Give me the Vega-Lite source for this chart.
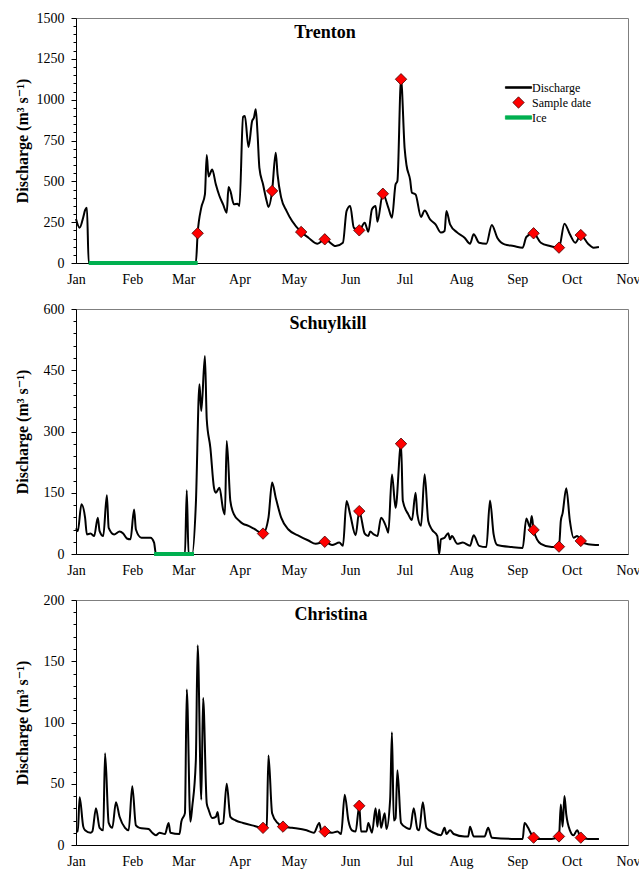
{
  "$schema": "https://vega.github.io/schema/vega-lite/v6.json",
  "background": "white",
  "padding": {"left": 13, "top": 10, "right": 0, "bottom": 0},
  "spacing": 46,
  "bounds": "flush",
  "config": {
    "font": "Times New Roman, Liberation Serif, DejaVu Serif, serif",
    "view": {"stroke": "#7f7f7f", "strokeWidth": 1},
    "axis": {"labelFont": "Times New Roman, Liberation Serif, DejaVu Serif, serif", "labelFontSize": 14, "labelColor": "black", "titleFont": "Times New Roman, Liberation Serif, DejaVu Serif, serif", "titleColor": "black", "domainColor": "black", "tickColor": "black", "grid": false},
    "legend": {"labelFont": "Times New Roman, Liberation Serif, DejaVu Serif, serif"},
    "title": {"font": "Times New Roman, Liberation Serif, DejaVu Serif, serif", "fontSize": 18, "fontWeight": "bold", "color": "black", "anchor": "middle", "frame": "group", "baseline": "alphabetic"}
  },
  "datasets": {
    "trenton": [
      {"date": "2010/01/01", "q": 270}, {"date": "2010/01/03", "q": 216}, {"date": "2010/01/05", "q": 280}, {"date": "2010/01/06", "q": 324}, {"date": "2010/01/07", "q": 339}, {"date": "2010/01/08", "q": 0},
      {"date": "2010/03/08", "q": 0}, {"date": "2010/03/09", "q": 182}, {"date": "2010/03/11", "q": 339}, {"date": "2010/03/13", "q": 420}, {"date": "2010/03/14", "q": 661}, {"date": "2010/03/15", "q": 530},
      {"date": "2010/03/17", "q": 573}, {"date": "2010/03/19", "q": 482}, {"date": "2010/03/21", "q": 410}, {"date": "2010/03/23", "q": 359}, {"date": "2010/03/25", "q": 308}, {"date": "2010/03/26", "q": 465},
      {"date": "2010/03/27", "q": 441}, {"date": "2010/03/29", "q": 359}, {"date": "2010/03/31", "q": 363}, {"date": "2010/04/01", "q": 349}, {"date": "2010/04/03", "q": 894}, {"date": "2010/04/04", "q": 900},
      {"date": "2010/04/06", "q": 710}, {"date": "2010/04/08", "q": 869}, {"date": "2010/04/09", "q": 890}, {"date": "2010/04/10", "q": 941}, {"date": "2010/04/11", "q": 788}, {"date": "2010/04/12", "q": 583},
      {"date": "2010/04/14", "q": 482}, {"date": "2010/04/16", "q": 380}, {"date": "2010/04/17", "q": 343}, {"date": "2010/04/19", "q": 441}, {"date": "2010/04/21", "q": 675}, {"date": "2010/04/22", "q": 543},
      {"date": "2010/04/24", "q": 400}, {"date": "2010/04/27", "q": 318}, {"date": "2010/04/30", "q": 257}, {"date": "2010/05/05", "q": 190}, {"date": "2010/05/09", "q": 155}, {"date": "2010/05/14", "q": 118},
      {"date": "2010/05/18", "q": 145}, {"date": "2010/05/24", "q": 104}, {"date": "2010/05/28", "q": 124}, {"date": "2010/05/30", "q": 318}, {"date": "2010/06/01", "q": 349}, {"date": "2010/06/03", "q": 216},
      {"date": "2010/06/06", "q": 200}, {"date": "2010/06/09", "q": 247}, {"date": "2010/06/11", "q": 192}, {"date": "2010/06/13", "q": 329}, {"date": "2010/06/15", "q": 349}, {"date": "2010/06/16", "q": 253},
      {"date": "2010/06/19", "q": 424}, {"date": "2010/06/22", "q": 339}, {"date": "2010/06/24", "q": 277}, {"date": "2010/06/26", "q": 482}, {"date": "2010/06/27", "q": 502}, {"date": "2010/06/29", "q": 1125},
      {"date": "2010/07/01", "q": 700}, {"date": "2010/07/02", "q": 600}, {"date": "2010/07/04", "q": 510}, {"date": "2010/07/05", "q": 430}, {"date": "2010/07/07", "q": 420}, {"date": "2010/07/10", "q": 282},
      {"date": "2010/07/12", "q": 322}, {"date": "2010/07/15", "q": 267}, {"date": "2010/07/18", "q": 237}, {"date": "2010/07/21", "q": 186}, {"date": "2010/07/23", "q": 196}, {"date": "2010/07/24", "q": 318},
      {"date": "2010/07/26", "q": 237}, {"date": "2010/07/30", "q": 186}, {"date": "2010/08/03", "q": 155}, {"date": "2010/08/06", "q": 118}, {"date": "2010/08/08", "q": 176}, {"date": "2010/08/11", "q": 124},
      {"date": "2010/08/15", "q": 118}, {"date": "2010/08/18", "q": 233}, {"date": "2010/08/21", "q": 155}, {"date": "2010/08/25", "q": 114}, {"date": "2010/08/30", "q": 104}, {"date": "2010/09/04", "q": 94},
      {"date": "2010/09/06", "q": 159}, {"date": "2010/09/10", "q": 182}, {"date": "2010/09/14", "q": 124}, {"date": "2010/09/19", "q": 104}, {"date": "2010/09/24", "q": 94}, {"date": "2010/09/27", "q": 241},
      {"date": "2010/09/30", "q": 176}, {"date": "2010/10/03", "q": 124}, {"date": "2010/10/06", "q": 171}, {"date": "2010/10/10", "q": 118}, {"date": "2010/10/13", "q": 94}, {"date": "2010/10/16", "q": 98}
    ],
    "trenton_ice": [{"date": "2010/01/08", "q": 0}, {"date": "2010/03/09", "q": 0}],
    "trenton_samples": [
      {"date": "2010/03/09", "q": 182, "series": "Sample date"}, {"date": "2010/04/19", "q": 441, "series": "Sample date"}, {"date": "2010/05/05", "q": 190, "series": "Sample date"},
      {"date": "2010/05/18", "q": 145, "series": "Sample date"}, {"date": "2010/06/06", "q": 200, "series": "Sample date"}, {"date": "2010/06/19", "q": 424, "series": "Sample date"},
      {"date": "2010/06/29", "q": 1125, "series": "Sample date"}, {"date": "2010/09/10", "q": 182, "series": "Sample date"}, {"date": "2010/09/24", "q": 94, "series": "Sample date"},
      {"date": "2010/10/06", "q": 171, "series": "Sample date"}
    ],
    "schuylkill": [
      {"date": "2010/01/01", "q": 63}, {"date": "2010/01/02", "q": 56}, {"date": "2010/01/04", "q": 122}, {"date": "2010/01/06", "q": 89}, {"date": "2010/01/07", "q": 48}, {"date": "2010/01/09", "q": 50},
      {"date": "2010/01/11", "q": 44}, {"date": "2010/01/13", "q": 89}, {"date": "2010/01/14", "q": 56}, {"date": "2010/01/16", "q": 44}, {"date": "2010/01/18", "q": 144}, {"date": "2010/01/19", "q": 64},
      {"date": "2010/01/22", "q": 48}, {"date": "2010/01/25", "q": 55}, {"date": "2010/01/27", "q": 50}, {"date": "2010/01/29", "q": 38}, {"date": "2010/01/31", "q": 36}, {"date": "2010/02/02", "q": 109},
      {"date": "2010/02/03", "q": 60}, {"date": "2010/02/06", "q": 40}, {"date": "2010/02/11", "q": 40}, {"date": "2010/02/13", "q": 28}, {"date": "2010/02/14", "q": 0}, {"date": "2010/03/02", "q": 0},
      {"date": "2010/03/03", "q": 156}, {"date": "2010/03/04", "q": 0}, {"date": "2010/03/06", "q": 0}, {"date": "2010/03/08", "q": 122}, {"date": "2010/03/10", "q": 416}, {"date": "2010/03/11", "q": 350},
      {"date": "2010/03/13", "q": 485}, {"date": "2010/03/14", "q": 330}, {"date": "2010/03/16", "q": 260}, {"date": "2010/03/18", "q": 162}, {"date": "2010/03/19", "q": 150}, {"date": "2010/03/21", "q": 162},
      {"date": "2010/03/23", "q": 109}, {"date": "2010/03/24", "q": 97}, {"date": "2010/03/25", "q": 277}, {"date": "2010/03/27", "q": 130}, {"date": "2010/03/29", "q": 97}, {"date": "2010/04/01", "q": 81},
      {"date": "2010/04/03", "q": 74}, {"date": "2010/04/06", "q": 69}, {"date": "2010/04/09", "q": 62}, {"date": "2010/04/14", "q": 50}, {"date": "2010/04/17", "q": 89}, {"date": "2010/04/19", "q": 175},
      {"date": "2010/04/21", "q": 138}, {"date": "2010/04/24", "q": 89}, {"date": "2010/04/28", "q": 60}, {"date": "2010/05/04", "q": 44}, {"date": "2010/05/09", "q": 33}, {"date": "2010/05/13", "q": 25},
      {"date": "2010/05/18", "q": 30}, {"date": "2010/05/22", "q": 22}, {"date": "2010/05/26", "q": 28}, {"date": "2010/05/28", "q": 20}, {"date": "2010/05/30", "q": 130}, {"date": "2010/06/01", "q": 97},
      {"date": "2010/06/04", "q": 46}, {"date": "2010/06/06", "q": 105}, {"date": "2010/06/09", "q": 50}, {"date": "2010/06/11", "q": 44}, {"date": "2010/06/12", "q": 55}, {"date": "2010/06/14", "q": 48},
      {"date": "2010/06/16", "q": 44}, {"date": "2010/06/18", "q": 89}, {"date": "2010/06/21", "q": 64}, {"date": "2010/06/22", "q": 52}, {"date": "2010/06/24", "q": 195}, {"date": "2010/06/26", "q": 113},
      {"date": "2010/06/29", "q": 270}, {"date": "2010/06/30", "q": 130}, {"date": "2010/07/03", "q": 97}, {"date": "2010/07/05", "q": 83}, {"date": "2010/07/07", "q": 150}, {"date": "2010/07/08", "q": 97},
      {"date": "2010/07/10", "q": 69}, {"date": "2010/07/12", "q": 195}, {"date": "2010/07/14", "q": 81}, {"date": "2010/07/16", "q": 60}, {"date": "2010/07/19", "q": 44}, {"date": "2010/07/20", "q": 0},
      {"date": "2010/07/21", "q": 36}, {"date": "2010/07/23", "q": 40}, {"date": "2010/07/25", "q": 51}, {"date": "2010/07/26", "q": 36}, {"date": "2010/07/27", "q": 44}, {"date": "2010/07/30", "q": 25},
      {"date": "2010/08/02", "q": 28}, {"date": "2010/08/06", "q": 20}, {"date": "2010/08/08", "q": 46}, {"date": "2010/08/11", "q": 20}, {"date": "2010/08/15", "q": 17}, {"date": "2010/08/17", "q": 131},
      {"date": "2010/08/19", "q": 48}, {"date": "2010/08/21", "q": 22}, {"date": "2010/08/29", "q": 17}, {"date": "2010/09/04", "q": 15}, {"date": "2010/09/06", "q": 87}, {"date": "2010/09/08", "q": 66},
      {"date": "2010/09/09", "q": 93}, {"date": "2010/09/10", "q": 59}, {"date": "2010/09/14", "q": 25}, {"date": "2010/09/20", "q": 17}, {"date": "2010/09/24", "q": 18}, {"date": "2010/09/25", "q": 81},
      {"date": "2010/09/26", "q": 100}, {"date": "2010/09/28", "q": 161}, {"date": "2010/09/30", "q": 81}, {"date": "2010/10/02", "q": 40}, {"date": "2010/10/04", "q": 44}, {"date": "2010/10/06", "q": 32},
      {"date": "2010/10/10", "q": 24}, {"date": "2010/10/16", "q": 22}
    ],
    "schuylkill_ice": [{"date": "2010/02/13", "q": 0}, {"date": "2010/03/07", "q": 0}],
    "schuylkill_samples": [
      {"date": "2010/04/14", "q": 50}, {"date": "2010/05/18", "q": 30}, {"date": "2010/06/06", "q": 105}, {"date": "2010/06/29", "q": 270},
      {"date": "2010/09/10", "q": 59}, {"date": "2010/09/24", "q": 18}, {"date": "2010/10/06", "q": 32}
    ],
    "christina": [
      {"date": "2010/01/01", "q": 11}, {"date": "2010/01/02", "q": 11}, {"date": "2010/01/03", "q": 39}, {"date": "2010/01/05", "q": 15}, {"date": "2010/01/06", "q": 12}, {"date": "2010/01/09", "q": 10},
      {"date": "2010/01/10", "q": 11}, {"date": "2010/01/12", "q": 30}, {"date": "2010/01/14", "q": 14}, {"date": "2010/01/16", "q": 12}, {"date": "2010/01/17", "q": 75}, {"date": "2010/01/19", "q": 18},
      {"date": "2010/01/21", "q": 14}, {"date": "2010/01/23", "q": 35}, {"date": "2010/01/25", "q": 23}, {"date": "2010/01/28", "q": 14}, {"date": "2010/01/30", "q": 12}, {"date": "2010/02/01", "q": 48},
      {"date": "2010/02/03", "q": 16}, {"date": "2010/02/05", "q": 14}, {"date": "2010/02/10", "q": 13}, {"date": "2010/02/12", "q": 10}, {"date": "2010/02/14", "q": 8}, {"date": "2010/02/16", "q": 10},
      {"date": "2010/02/19", "q": 9}, {"date": "2010/02/21", "q": 18}, {"date": "2010/02/22", "q": 10}, {"date": "2010/02/27", "q": 9}, {"date": "2010/02/28", "q": 19}, {"date": "2010/03/02", "q": 26},
      {"date": "2010/03/03", "q": 127}, {"date": "2010/03/05", "q": 19}, {"date": "2010/03/06", "q": 31}, {"date": "2010/03/08", "q": 69}, {"date": "2010/03/09", "q": 163}, {"date": "2010/03/11", "q": 37},
      {"date": "2010/03/12", "q": 120}, {"date": "2010/03/14", "q": 34}, {"date": "2010/03/15", "q": 29}, {"date": "2010/03/17", "q": 22}, {"date": "2010/03/19", "q": 23}, {"date": "2010/03/20", "q": 27},
      {"date": "2010/03/21", "q": 17}, {"date": "2010/03/23", "q": 18}, {"date": "2010/03/25", "q": 50}, {"date": "2010/03/27", "q": 23}, {"date": "2010/03/30", "q": 20}, {"date": "2010/04/03", "q": 18},
      {"date": "2010/04/08", "q": 16}, {"date": "2010/04/14", "q": 14}, {"date": "2010/04/16", "q": 15}, {"date": "2010/04/17", "q": 73}, {"date": "2010/04/19", "q": 26}, {"date": "2010/04/22", "q": 18},
      {"date": "2010/04/25", "q": 15}, {"date": "2010/04/30", "q": 14}, {"date": "2010/05/08", "q": 12}, {"date": "2010/05/12", "q": 10}, {"date": "2010/05/15", "q": 18}, {"date": "2010/05/16", "q": 12},
      {"date": "2010/05/18", "q": 11}, {"date": "2010/05/22", "q": 10}, {"date": "2010/05/25", "q": 11}, {"date": "2010/05/27", "q": 9}, {"date": "2010/05/29", "q": 41}, {"date": "2010/05/31", "q": 20},
      {"date": "2010/06/02", "q": 12}, {"date": "2010/06/04", "q": 11}, {"date": "2010/06/06", "q": 32}, {"date": "2010/06/07", "q": 11}, {"date": "2010/06/10", "q": 11}, {"date": "2010/06/11", "q": 18},
      {"date": "2010/06/13", "q": 10}, {"date": "2010/06/15", "q": 30}, {"date": "2010/06/16", "q": 15}, {"date": "2010/06/17", "q": 29}, {"date": "2010/06/18", "q": 14}, {"date": "2010/06/20", "q": 26},
      {"date": "2010/06/21", "q": 13}, {"date": "2010/06/23", "q": 37}, {"date": "2010/06/24", "q": 92}, {"date": "2010/06/25", "q": 20}, {"date": "2010/06/26", "q": 22}, {"date": "2010/06/27", "q": 61},
      {"date": "2010/06/29", "q": 18}, {"date": "2010/07/02", "q": 14}, {"date": "2010/07/04", "q": 13}, {"date": "2010/07/06", "q": 30}, {"date": "2010/07/08", "q": 13}, {"date": "2010/07/09", "q": 12},
      {"date": "2010/07/11", "q": 35}, {"date": "2010/07/13", "q": 14}, {"date": "2010/07/17", "q": 10}, {"date": "2010/07/21", "q": 8}, {"date": "2010/07/23", "q": 14}, {"date": "2010/07/24", "q": 9},
      {"date": "2010/07/26", "q": 12}, {"date": "2010/07/28", "q": 9}, {"date": "2010/08/03", "q": 7}, {"date": "2010/08/05", "q": 7}, {"date": "2010/08/06", "q": 15}, {"date": "2010/08/08", "q": 7},
      {"date": "2010/08/14", "q": 7}, {"date": "2010/08/16", "q": 14}, {"date": "2010/08/18", "q": 6}, {"date": "2010/08/29", "q": 5}, {"date": "2010/09/04", "q": 5}, {"date": "2010/09/05", "q": 18},
      {"date": "2010/09/07", "q": 14}, {"date": "2010/09/08", "q": 11}, {"date": "2010/09/10", "q": 6}, {"date": "2010/09/12", "q": 5}, {"date": "2010/09/20", "q": 5}, {"date": "2010/09/24", "q": 7},
      {"date": "2010/09/25", "q": 33}, {"date": "2010/09/26", "q": 15}, {"date": "2010/09/27", "q": 40}, {"date": "2010/09/28", "q": 25}, {"date": "2010/09/30", "q": 12}, {"date": "2010/10/02", "q": 8},
      {"date": "2010/10/04", "q": 12}, {"date": "2010/10/06", "q": 6}, {"date": "2010/10/10", "q": 5}, {"date": "2010/10/16", "q": 5}
    ],
    "christina_samples": [
      {"date": "2010/04/14", "q": 14}, {"date": "2010/04/25", "q": 15}, {"date": "2010/05/18", "q": 11}, {"date": "2010/06/06", "q": 32},
      {"date": "2010/09/10", "q": 6}, {"date": "2010/09/24", "q": 7}, {"date": "2010/10/06", "q": 6}
    ]
  },
  "vconcat": [
    {
      "width": 552, "height": 245,
      "title": {"text": "Trenton", "offset": -31, "dx": -27},
      "resolve": {"scale": {"y": "shared"}, "axis": {"y": "independent"}},
      "layer": [
        {
          "data": {"name": "trenton"},
          "mark": {"type": "line", "color": "black", "strokeWidth": 2, "interpolate": "monotone"},
          "encoding": {
            "x": {"field": "date", "type": "temporal", "scale": {"domain": [{"year": 2010, "month": 1, "date": 1}, {"year": 2010, "month": 11, "date": 1}]},
              "axis": {"title": null, "format": "%b", "values": [{"year": 2010, "month": 1, "date": 1}, {"year": 2010, "month": 2, "date": 1}, {"year": 2010, "month": 3, "date": 1}, {"year": 2010, "month": 4, "date": 1}, {"year": 2010, "month": 5, "date": 1}, {"year": 2010, "month": 6, "date": 1}, {"year": 2010, "month": 7, "date": 1}, {"year": 2010, "month": 8, "date": 1}, {"year": 2010, "month": 9, "date": 1}, {"year": 2010, "month": 10, "date": 1}, {"year": 2010, "month": 11, "date": 1}],
                "ticks": false, "labelPadding": 9, "labelFlush": false, "labelOverlap": false, "labelBound": false}},
            "y": {"field": "q", "type": "quantitative", "scale": {"domain": [0, 1500], "nice": false},
              "axis": {"orient": "left", "title": "Discharge (m³ s⁻¹)", "titleFontSize": 16, "titleFontWeight": "bold", "titlePadding": 6, "format": "d",
                "values": [0, 250, 500, 750, 1000, 1250, 1500], "tickSize": 5,
                "labelPadding": 7, "minExtent": 40, "maxExtent": 40, "labelOverlap": false}}
          }
        },
        {
          "data": {"name": "trenton_ice"},
          "mark": {"type": "line", "color": "#00b050", "strokeWidth": 4},
          "encoding": {"x": {"field": "date", "type": "temporal"},
            "y": {"field": "q", "type": "quantitative",
              "axis": {"orient": "left", "title": null, "labels": false, "domain": false, "tickSize": 3,
                "values": [50, 100, 150, 200, 300, 350, 400, 450, 550, 600, 650, 700, 800, 850, 900, 950, 1050, 1100, 1150, 1200, 1300, 1350, 1400, 1450]}}}
        },
        {
          "data": {"name": "trenton_samples"},
          "mark": {"type": "point", "filled": true, "size": 130, "strokeWidth": 0.8, "opacity": 1},
          "encoding": {
            "x": {"field": "date", "type": "temporal"},
            "y": {"field": "q", "type": "quantitative", "axis": null},
            "fill": {"field": "series", "type": "nominal", "scale": {"domain": ["Discharge", "Sample date", "Ice"], "range": ["black", "#ff0000", "#00b050"]},
              "legend": {"orient": "none", "legendX": 436, "legendY": 63, "title": null, "labelFontSize": 12, "labelColor": "black", "labelOffset": 7, "symbolSize": 130, "symbolStrokeWidth": 0.8, "rowPadding": 1, "padding": 0}},
            "stroke": {"field": "series", "type": "nominal", "scale": {"domain": ["Discharge", "Sample date", "Ice"], "range": ["black", "#400000", "#00b050"]}},
            "shape": {"field": "series", "type": "nominal", "scale": {"domain": ["Discharge", "Sample date", "Ice"], "range": ["M-2.3,-0.15L2.3,-0.15L2.3,0.15L-2.3,0.15Z", "diamond", "M-2.3,-0.3L2.3,-0.3L2.3,0.3L-2.3,0.3Z"]}}
          }
        }
      ]
    },
    {
      "width": 552, "height": 245,
      "title": {"text": "Schuylkill", "offset": -31, "dx": -24},
      "resolve": {"scale": {"y": "shared"}, "axis": {"y": "independent"}},
      "layer": [
        {
          "data": {"name": "schuylkill"},
          "mark": {"type": "line", "color": "black", "strokeWidth": 2, "interpolate": "monotone"},
          "encoding": {
            "x": {"field": "date", "type": "temporal", "scale": {"domain": [{"year": 2010, "month": 1, "date": 1}, {"year": 2010, "month": 11, "date": 1}]},
              "axis": {"title": null, "format": "%b", "values": [{"year": 2010, "month": 1, "date": 1}, {"year": 2010, "month": 2, "date": 1}, {"year": 2010, "month": 3, "date": 1}, {"year": 2010, "month": 4, "date": 1}, {"year": 2010, "month": 5, "date": 1}, {"year": 2010, "month": 6, "date": 1}, {"year": 2010, "month": 7, "date": 1}, {"year": 2010, "month": 8, "date": 1}, {"year": 2010, "month": 9, "date": 1}, {"year": 2010, "month": 10, "date": 1}, {"year": 2010, "month": 11, "date": 1}],
                "ticks": false, "labelPadding": 9, "labelFlush": false, "labelOverlap": false, "labelBound": false}},
            "y": {"field": "q", "type": "quantitative", "scale": {"domain": [0, 600], "nice": false},
              "axis": {"orient": "left", "title": "Discharge (m³ s⁻¹)", "titleFontSize": 16, "titleFontWeight": "bold", "titlePadding": 6, "format": "d",
                "values": [0, 150, 300, 450, 600], "tickSize": 5,
                "labelPadding": 7, "minExtent": 40, "maxExtent": 40, "labelOverlap": false}}
          }
        },
        {
          "data": {"name": "schuylkill_ice"},
          "mark": {"type": "line", "color": "#00b050", "strokeWidth": 4},
          "encoding": {"x": {"field": "date", "type": "temporal"},
            "y": {"field": "q", "type": "quantitative",
              "axis": {"orient": "left", "title": null, "labels": false, "domain": false, "tickSize": 3,
                "values": [30, 60, 90, 120, 180, 210, 240, 270, 330, 360, 390, 420, 480, 510, 540, 570]}}}
        },
        {
          "data": {"name": "schuylkill_samples"},
          "mark": {"type": "point", "shape": "diamond", "filled": true, "size": 130, "fill": "#ff0000", "stroke": "#400000", "strokeWidth": 0.8, "opacity": 1},
          "encoding": {"x": {"field": "date", "type": "temporal"}, "y": {"field": "q", "type": "quantitative", "axis": null}}
        }
      ]
    },
    {
      "width": 552, "height": 245,
      "title": {"text": "Christina", "offset": -31, "dx": -21},
      "resolve": {"scale": {"y": "shared"}, "axis": {"y": "independent"}},
      "layer": [
        {
          "data": {"name": "christina"},
          "mark": {"type": "line", "color": "black", "strokeWidth": 2, "interpolate": "monotone"},
          "encoding": {
            "x": {"field": "date", "type": "temporal", "scale": {"domain": [{"year": 2010, "month": 1, "date": 1}, {"year": 2010, "month": 11, "date": 1}]},
              "axis": {"title": null, "format": "%b", "values": [{"year": 2010, "month": 1, "date": 1}, {"year": 2010, "month": 2, "date": 1}, {"year": 2010, "month": 3, "date": 1}, {"year": 2010, "month": 4, "date": 1}, {"year": 2010, "month": 5, "date": 1}, {"year": 2010, "month": 6, "date": 1}, {"year": 2010, "month": 7, "date": 1}, {"year": 2010, "month": 8, "date": 1}, {"year": 2010, "month": 9, "date": 1}, {"year": 2010, "month": 10, "date": 1}, {"year": 2010, "month": 11, "date": 1}],
                "ticks": false, "labelPadding": 9, "labelFlush": false, "labelOverlap": false, "labelBound": false}},
            "y": {"field": "q", "type": "quantitative", "scale": {"domain": [0, 200], "nice": false},
              "axis": {"orient": "left", "title": "Discharge (m³ s⁻¹)", "titleFontSize": 16, "titleFontWeight": "bold", "titlePadding": 6, "format": "d",
                "values": [0, 50, 100, 150, 200], "tickSize": 5,
                "labelPadding": 7, "minExtent": 40, "maxExtent": 40, "labelOverlap": false}}
          }
        },
        {
          "data": {"name": "christina_samples"},
          "mark": {"type": "point", "shape": "diamond", "filled": true, "size": 130, "fill": "#ff0000", "stroke": "#400000", "strokeWidth": 0.8, "opacity": 1},
          "encoding": {"x": {"field": "date", "type": "temporal"},
            "y": {"field": "q", "type": "quantitative",
              "axis": {"orient": "left", "title": null, "labels": false, "domain": false, "tickSize": 3,
                "values": [10, 20, 30, 40, 60, 70, 80, 90, 110, 120, 130, 140, 160, 170, 180, 190]}}}
        }
      ]
    }
  ]
}
